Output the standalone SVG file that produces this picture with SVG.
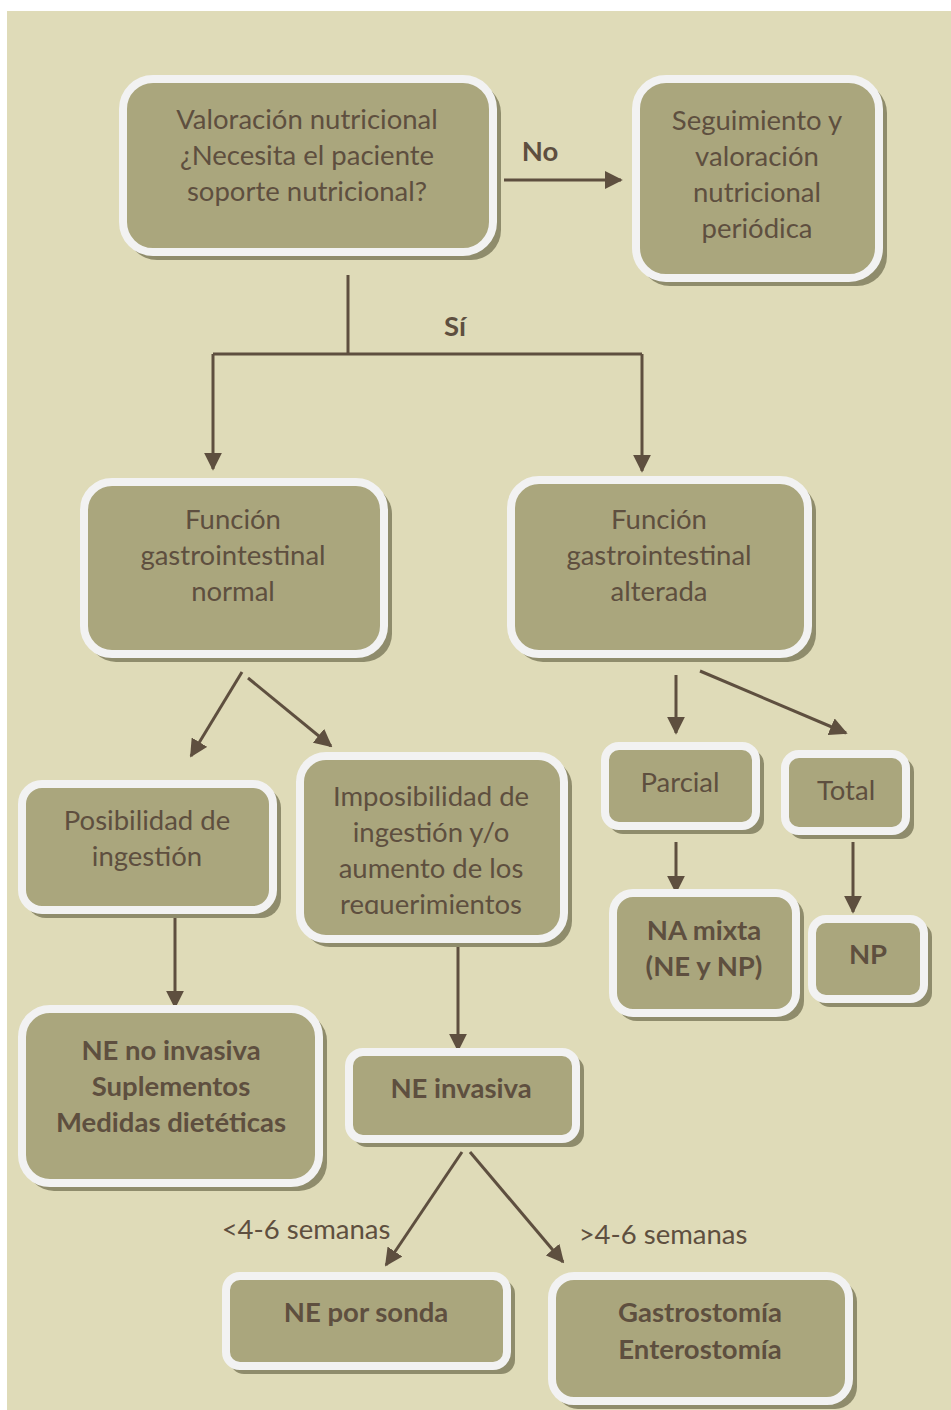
<svg xmlns="http://www.w3.org/2000/svg" width="951" height="1410" viewBox="0 0 951 1410">
<defs>
<style>
.sh{fill:#8f8c6c;}
.bx{fill:#aaa67d;stroke:#f2f2f2;stroke-width:8;}
.t{font-family:Lato,"Liberation Sans",sans-serif;font-size:27.5px;fill:#5e4f3f;text-anchor:middle;}
.b{font-weight:bold;}
.ln{stroke:#5e4f3f;stroke-width:3;fill:none;}
.ar{stroke:#5e4f3f;stroke-width:3;fill:none;marker-end:url(#ah);}
</style>
<marker id="ah" viewBox="0 0 10 10" refX="9" refY="5" markerWidth="6" markerHeight="6" orient="auto" markerUnits="strokeWidth">
<path d="M0,0 L10,5 L0,10 z" fill="#5e4f3f"/>
</marker>
<clipPath id="cImp"><rect x="300" y="756" width="264" height="158"/></clipPath>
</defs>
<rect x="0" y="0" width="951" height="1410" fill="#ffffff"/>
<rect x="7" y="11" width="944" height="1399" fill="#dfdbb8"/>

<g id="connectors">
<line class="ar" x1="504" y1="180" x2="621" y2="180"/>
<line class="ln" x1="348" y1="275" x2="348" y2="354"/>
<line class="ln" x1="213" y1="354" x2="642" y2="354"/>
<line class="ar" x1="213" y1="354" x2="213" y2="469"/>
<line class="ar" x1="642" y1="354" x2="642" y2="471"/>
<line class="ar" x1="242" y1="672" x2="191" y2="756"/>
<line class="ar" x1="248" y1="678" x2="331" y2="746"/>
<line class="ar" x1="676" y1="675" x2="676" y2="733"/>
<line class="ar" x1="700" y1="671" x2="846" y2="733"/>
<line class="ar" x1="676" y1="842" x2="676" y2="892"/>
<line class="ar" x1="853" y1="842" x2="853" y2="912"/>
<line class="ar" x1="175" y1="913" x2="175" y2="1007"/>
<line class="ar" x1="458" y1="946" x2="458" y2="1050"/>
<line class="ar" x1="462" y1="1152" x2="386" y2="1265"/>
<line class="ar" x1="470" y1="1152" x2="563" y2="1262"/>
<text class="t b" x="540" y="161">No</text>
<text class="t b" x="455" y="336">Sí</text>
<text class="t" x="306" y="1239">&lt;4-6 semanas</text>
<text class="t" x="663" y="1244">&gt;4-6 semanas</text>
</g>

<g id="n_valoracion">
<rect class="sh" x="127" y="83" width="374" height="177" rx="30"/>
<rect class="bx" x="123" y="79" width="370" height="173" rx="30"/>
<text class="t" x="307" y="129">Valoración nutricional</text>
<text class="t" x="307" y="165">¿Necesita el paciente</text>
<text class="t" x="307" y="201">soporte nutricional?</text>
</g>

<g id="n_seguimiento">
<rect class="sh" x="640" y="83" width="247" height="203" rx="30"/>
<rect class="bx" x="636" y="79" width="243" height="199" rx="30"/>
<text class="t" x="757" y="130">Seguimiento y</text>
<text class="t" x="757" y="166">valoración</text>
<text class="t" x="757" y="202">nutricional</text>
<text class="t" x="757" y="238">periódica</text>
</g>

<g id="n_normal">
<rect class="sh" x="88" y="486" width="304" height="176" rx="28"/>
<rect class="bx" x="84" y="482" width="300" height="172" rx="28"/>
<text class="t" x="233" y="529">Función</text>
<text class="t" x="233" y="565">gastrointestinal</text>
<text class="t" x="233" y="601">normal</text>
</g>

<g id="n_alterada">
<rect class="sh" x="515" y="484" width="301" height="178" rx="28"/>
<rect class="bx" x="511" y="480" width="297" height="174" rx="28"/>
<text class="t" x="659" y="529">Función</text>
<text class="t" x="659" y="565">gastrointestinal</text>
<text class="t" x="659" y="601">alterada</text>
</g>

<g id="n_posibilidad">
<rect class="sh" x="26" y="788" width="255" height="130" rx="20"/>
<rect class="bx" x="22" y="784" width="251" height="126" rx="20"/>
<text class="t" x="147" y="830">Posibilidad de</text>
<text class="t" x="147" y="866">ingestión</text>
</g>

<g id="n_imposibilidad">
<rect class="sh" x="304" y="760" width="268" height="187" rx="26"/>
<rect class="bx" x="300" y="756" width="264" height="183" rx="26"/>
<g clip-path="url(#cImp)">
<text class="t" x="431" y="806">Imposibilidad de</text>
<text class="t" x="431" y="842">ingestión y/o</text>
<text class="t" x="431" y="878">aumento de los</text>
<text class="t" x="431" y="914">requerimientos</text>
</g>
</g>

<g id="n_parcial">
<rect class="sh" x="609" y="750" width="155" height="84" rx="14"/>
<rect class="bx" x="605" y="746" width="151" height="80" rx="14"/>
<text class="t" x="680" y="792">Parcial</text>
</g>

<g id="n_total">
<rect class="sh" x="789" y="758" width="125" height="81" rx="14"/>
<rect class="bx" x="785" y="754" width="121" height="77" rx="14"/>
<text class="t" x="846" y="800">Total</text>
</g>

<g id="n_namixta">
<rect class="sh" x="617" y="897" width="187" height="124" rx="20"/>
<rect class="bx" x="613" y="893" width="183" height="120" rx="20"/>
<text class="t b" x="704" y="940">NA mixta</text>
<text class="t b" x="704" y="976">(NE y NP)</text>
</g>

<g id="n_np">
<rect class="sh" x="816" y="923" width="116" height="84" rx="14"/>
<rect class="bx" x="812" y="919" width="112" height="80" rx="14"/>
<text class="t b" x="868" y="964">NP</text>
</g>

<g id="n_noinvasiva">
<rect class="sh" x="26" y="1013" width="301" height="178" rx="28"/>
<rect class="bx" x="22" y="1009" width="297" height="174" rx="28"/>
<text class="t b" x="171" y="1060">NE no invasiva</text>
<text class="t b" x="171" y="1096">Suplementos</text>
<text class="t b" x="171" y="1132">Medidas dietéticas</text>
</g>

<g id="n_invasiva">
<rect class="sh" x="353" y="1056" width="231" height="91" rx="14"/>
<rect class="bx" x="349" y="1052" width="227" height="87" rx="14"/>
<text class="t b" x="461" y="1098">NE invasiva</text>
</g>

<g id="n_sonda">
<rect class="sh" x="230" y="1280" width="285" height="94" rx="14"/>
<rect class="bx" x="226" y="1276" width="281" height="90" rx="14"/>
<text class="t b" x="366" y="1322">NE por sonda</text>
</g>

<g id="n_gastro">
<rect class="sh" x="556" y="1280" width="301" height="129" rx="22"/>
<rect class="bx" x="552" y="1276" width="297" height="125" rx="22"/>
<text class="t b" x="700" y="1322">Gastrostomía</text>
<text class="t b" x="700" y="1359">Enterostomía</text>
</g>
</svg>
